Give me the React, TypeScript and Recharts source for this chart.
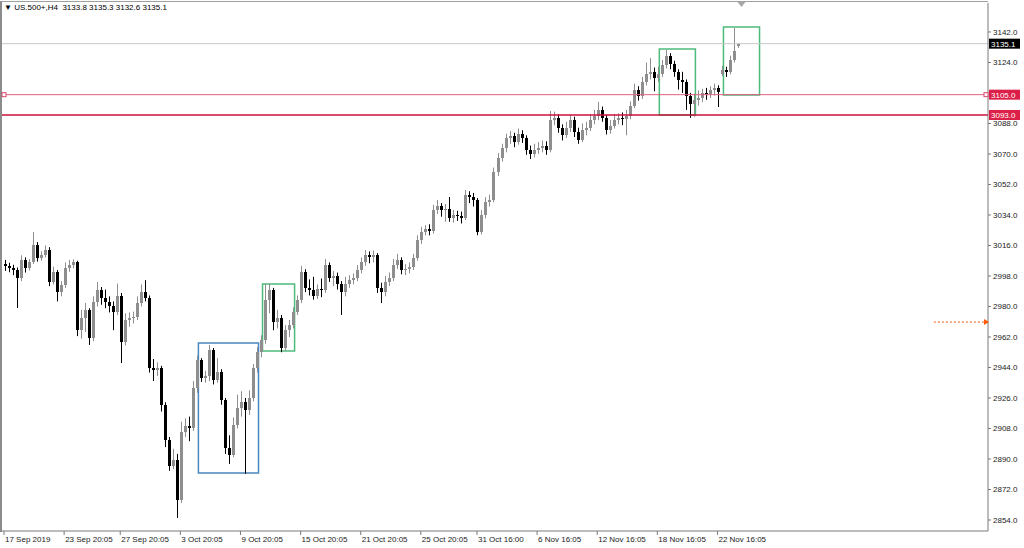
import React from "react";
import {
  ComposedChart,
  Bar,
  XAxis,
  YAxis,
  ReferenceLine,
  ReferenceArea,
  ReferenceDot,
} from "recharts";

// US.500+ H4 candles
const opens = [
  3005.0, 3003.9, 3002.7, 3001.5, 2996.8, 3007.5, 3002.7, 3006.2, 3016.3, 3008.6,
  3010.4, 3013.3, 2994.5, 3000.3, 2988.5, 2992.7, 3002.7, 3004.5, 3006.2, 2966.1,
  2973.2, 2977.9, 2961.4, 2982.6, 2989.7, 2985.0, 2982.6, 2980.3, 2976.7, 2986.2,
  2959.0, 2972.0, 2973.2, 2973.8, 2982.0, 2988.5, 2985.0, 2943.7, 2942.5, 2943.7,
  2921.9, 2901.2, 2885.9, 2889.4, 2865.8, 2905.9, 2909.5, 2908.3, 2931.9, 2948.4,
  2937.8, 2939.0, 2954.3, 2936.6, 2941.3, 2924.8, 2896.5, 2892.3, 2910.1, 2920.1,
  2923.6, 2918.9, 2926.0, 2943.7, 2953.1, 2960.2, 2983.8, 2989.7, 2970.8, 2973.2,
  2955.5, 2966.1, 2969.1, 2976.7, 2983.8, 3000.3, 2990.9, 2989.7, 2986.2, 2990.3,
  2989.7, 3004.5, 2996.8, 2997.9, 2993.3, 2988.5, 2993.3, 2995.6, 2996.8, 3001.5,
  3006.2, 3010.4, 3009.0, 3010.4, 2990.9, 2988.5, 2994.5, 2996.8, 3004.5, 3007.5,
  3001.5, 3002.0, 3003.3, 3008.6, 3019.2, 3024.0, 3025.7, 3024.6, 3036.9, 3039.3,
  3036.9, 3037.8, 3032.2, 3034.0, 3033.4, 3032.2, 3045.8, 3044.6, 3042.8, 3024.0,
  3034.0, 3041.7, 3042.8, 3059.4, 3067.6, 3073.5, 3079.4, 3080.6, 3077.1, 3081.8,
  3079.4, 3072.4, 3070.0, 3072.4, 3073.5, 3074.7, 3072.4, 3090.1, 3091.3, 3085.3,
  3081.2, 3085.3, 3090.1, 3083.0, 3078.3, 3084.2, 3085.3, 3090.1, 3092.4, 3096.0,
  3091.3, 3084.2, 3086.5, 3090.1, 3091.3, 3090.5, 3092.4, 3098.3, 3107.8, 3104.2,
  3112.5, 3117.2, 3118.4, 3114.9, 3117.2, 3122.5, 3127.8, 3123.1, 3118.4, 3113.7,
  3112.5, 3104.2, 3099.5, 3101.9, 3103.0, 3106.0, 3105.4, 3107.8, 3109.0, 3117.0,
  3119.6, 3118.4, 3125.5, 3133.8,
];

const highs = [
  3007.5, 3005.8, 3004.6, 3003.0, 3010.2, 3009.0, 3008.0, 3024.0, 3018.0, 3012.6,
  3016.0, 3015.0, 3003.5, 3001.5, 2995.0, 3006.0, 3007.5, 3007.8, 3007.0, 2978.0,
  2982.0, 2979.0, 2986.0, 2994.5, 2991.5, 2990.0, 2986.0, 2983.0, 2993.5, 2988.0,
  2976.0, 2976.5, 2977.0, 2986.0, 2993.0, 2995.5, 2986.5, 2949.0, 2947.0, 2945.0,
  2923.5, 2903.0, 2896.0, 2893.0, 2912.0, 2914.0, 2915.0, 2936.0, 2951.0, 2949.5,
  2942.0, 2957.3, 2955.5, 2949.5, 2943.0, 2926.0, 2904.0, 2914.5, 2928.0, 2930.0,
  2926.0, 2930.5, 2946.0, 2956.0, 2963.0, 2993.5, 2993.5, 2991.0, 2978.0, 2975.0,
  2969.0, 2972.0, 2979.5, 2986.5, 3004.0, 3002.0, 2996.0, 2997.5, 2993.0, 2996.5,
  3008.0, 3006.0, 3001.0, 3000.0, 2995.0, 2997.5, 2998.5, 2999.5, 3004.5, 3009.0,
  3013.3, 3012.5, 3013.0, 3011.5, 2994.0, 2998.0, 3000.0, 3008.0, 3011.0, 3009.0,
  3005.0, 3006.0, 3011.0, 3022.0, 3027.0, 3028.0, 3028.5, 3040.0, 3042.8, 3041.0,
  3040.5, 3044.6, 3037.0, 3036.5, 3036.0, 3048.7, 3048.0, 3047.0, 3044.0, 3037.0,
  3044.5, 3046.0, 3062.0, 3070.5, 3076.0, 3082.0, 3083.5, 3082.5, 3085.0, 3084.0,
  3081.0, 3075.0, 3076.0, 3077.0, 3078.0, 3077.5, 3095.4, 3095.0, 3093.5, 3087.5,
  3089.0, 3093.0, 3092.0, 3085.5, 3088.0, 3089.0, 3093.5, 3096.0, 3100.7, 3098.0,
  3093.0, 3090.0, 3093.5, 3094.0, 3094.5, 3096.0, 3101.0, 3111.5, 3110.0, 3115.5,
  3124.0, 3126.6, 3121.0, 3121.5, 3125.5, 3131.4, 3129.5, 3125.0, 3120.0, 3118.5,
  3114.0, 3106.0, 3105.5, 3107.5, 3108.5, 3109.0, 3110.0, 3111.5, 3110.5, 3122.0,
  3121.5, 3128.0, 3144.4, 3135.3,
];

const lows = [
  3001.0, 3000.2, 2998.5, 2979.1, 2995.0, 3000.0, 3001.2, 3005.0, 3006.5, 3007.0,
  3009.0, 2992.0, 2993.0, 2983.0, 2986.0, 2991.0, 3000.5, 3002.5, 2962.5, 2961.0,
  2965.0, 2957.3, 2959.5, 2980.0, 2981.0, 2979.0, 2976.5, 2966.0, 2975.0, 2946.6,
  2957.0, 2968.0, 2970.0, 2972.0, 2980.0, 2983.0, 2941.0, 2936.0, 2939.0, 2918.0,
  2897.0, 2883.0, 2884.0, 2855.2, 2864.0, 2903.0, 2900.5, 2906.5, 2929.0, 2935.5,
  2935.0, 2936.0, 2934.0, 2935.0, 2922.0, 2893.0, 2887.1, 2891.0, 2908.0, 2915.0,
  2881.2, 2916.0, 2924.0, 2941.0, 2950.0, 2958.0, 2976.0, 2966.0, 2967.0, 2953.0,
  2954.0, 2962.0, 2967.0, 2975.0, 2982.0, 2988.5, 2986.5, 2984.0, 2984.5, 2985.5,
  2988.0, 2994.5, 2992.0, 2990.0, 2975.0, 2986.0, 2991.0, 2993.0, 2995.0, 2999.5,
  3004.0, 3005.5, 3006.0, 2988.0, 2982.0, 2986.0, 2992.0, 2995.0, 3002.0, 2999.0,
  2998.5, 2999.5, 3001.5, 3007.0, 3017.0, 3022.0, 3022.0, 3023.0, 3034.5, 3033.0,
  3030.0, 3030.0, 3029.5, 3030.5, 3029.0, 3031.0, 3041.0, 3039.0, 3022.1, 3022.5,
  3032.0, 3039.0, 3041.5, 3057.0, 3065.5, 3071.0, 3076.0, 3074.0, 3075.5, 3076.5,
  3069.5, 3067.0, 3068.0, 3070.0, 3071.0, 3069.5, 3071.0, 3087.0, 3082.5, 3078.0,
  3079.5, 3083.0, 3080.0, 3076.0, 3077.0, 3081.0, 3083.5, 3087.5, 3090.0, 3089.0,
  3081.5, 3082.0, 3085.0, 3087.5, 3087.0, 3081.0, 3090.5, 3097.0, 3101.5, 3102.5,
  3110.5, 3114.0, 3107.0, 3112.5, 3115.5, 3120.5, 3120.0, 3115.5, 3108.0, 3106.0,
  3096.0, 3091.3, 3092.0, 3098.5, 3100.5, 3102.0, 3103.0, 3104.5, 3097.7, 3116.0,
  3115.5, 3117.0, 3124.0, 3132.6,
];

const closes = [
  3003.9, 3002.7, 3001.5, 2996.8, 3007.5, 3002.7, 3006.2, 3016.3, 3008.6, 3010.4,
  3013.3, 2994.5, 3000.3, 2988.5, 2992.7, 3002.7, 3004.5, 3006.2, 2966.1, 2973.2,
  2977.9, 2961.4, 2982.6, 2989.7, 2985.0, 2982.6, 2980.3, 2976.7, 2986.2, 2959.0,
  2972.0, 2973.2, 2973.8, 2982.0, 2988.5, 2985.0, 2943.7, 2942.5, 2943.7, 2921.9,
  2901.2, 2885.9, 2889.4, 2865.8, 2905.9, 2909.5, 2908.3, 2931.9, 2948.4, 2937.8,
  2939.0, 2954.3, 2936.6, 2941.3, 2924.8, 2896.5, 2892.3, 2910.1, 2920.1, 2923.6,
  2918.9, 2926.0, 2943.7, 2953.1, 2960.2, 2983.8, 2989.7, 2970.8, 2973.2, 2955.5,
  2966.1, 2969.1, 2976.7, 2983.8, 3000.3, 2990.9, 2989.7, 2986.2, 2990.3, 2989.7,
  3004.5, 2996.8, 2997.9, 2993.3, 2988.5, 2993.3, 2995.6, 2996.8, 3001.5, 3006.2,
  3010.4, 3009.0, 3010.4, 2990.9, 2988.5, 2994.5, 2996.8, 3004.5, 3007.5, 3001.5,
  3002.0, 3003.3, 3008.6, 3019.2, 3024.0, 3025.7, 3024.6, 3036.9, 3039.3, 3036.9,
  3037.8, 3032.2, 3034.0, 3033.4, 3032.2, 3045.8, 3044.6, 3042.8, 3024.0, 3034.0,
  3041.7, 3042.8, 3059.4, 3067.6, 3073.5, 3079.4, 3080.6, 3077.1, 3081.8, 3079.4,
  3072.4, 3070.0, 3072.4, 3073.5, 3074.7, 3072.4, 3090.1, 3091.3, 3085.3, 3081.2,
  3085.3, 3090.1, 3083.0, 3078.3, 3084.2, 3085.3, 3090.1, 3092.4, 3096.0, 3091.3,
  3084.2, 3086.5, 3090.1, 3091.3, 3090.5, 3092.4, 3098.3, 3107.8, 3104.2, 3112.5,
  3117.2, 3118.4, 3114.9, 3117.2, 3122.5, 3127.8, 3123.1, 3118.4, 3113.7, 3112.5,
  3104.2, 3099.5, 3101.9, 3103.0, 3106.0, 3105.4, 3107.8, 3109.0, 3106.6, 3119.6,
  3118.4, 3125.5, 3131.0, 3135.1,
];

// empty bars kept on the right (chart shift)
const SLOTS = 246;

const tickIdx = [0, 15, 29, 44, 59, 74, 89, 104, 118, 133, 148, 163, 178];
const tickLabels = [
  "17 Sep 2019", "23 Sep 20:05", "27 Sep 20:05", "3 Oct 20:05", "9 Oct 20:05",
  "15 Oct 20:05", "21 Oct 20:05", "25 Oct 20:05", "31 Oct 16:00", "6 Nov 16:05",
  "12 Nov 16:05", "18 Nov 16:05", "22 Nov 16:05",
];

const yTicks = [2854, 2872, 2890, 2908, 2926, 2944, 2962, 2980, 2998, 3016, 3034, 3052, 3070, 3088, 3124, 3142];
const Y_MIN = 2847.5;
const Y_MAX = 3159.1;

const BID = 3135.1;
const LEVEL_A = 3105.0;
const LEVEL_B = 3093.0;
const ARROW_PRICE = 2970.8;

const FONT = "'Liberation Sans', Arial, sans-serif";
const BULL = "#8e8e8e";
const BEAR = "#000000";
const GREEN = "#4dbb7c";
const BLUE = "#4a86c0";

const data = Array.from({ length: SLOTS }, (_, i) => ({
  i,
  open: i < closes.length ? opens[i] : null,
  high: i < closes.length ? highs[i] : null,
  low: i < closes.length ? lows[i] : null,
  close: i < closes.length ? closes[i] : null,
}));

const Candle = (props: any) => {
  const { x, y, width, height, payload } = props;
  if (!payload || payload.high == null) return <g />;
  const { open, close, high, low } = payload;
  const top = Math.min(y, y + height);
  const h = Math.abs(height);
  const k = high === low ? 0 : h / (high - low);
  const yO = top + (high - open) * k;
  const yC = top + (high - close) * k;
  const color = close >= open ? BULL : BEAR;
  const cx = Math.round(x + width / 2) + 0.5;
  return (
    <g>
      <line x1={cx} x2={cx} y1={top} y2={top + h} stroke={color} strokeWidth={1} />
      <rect
        x={cx - 1.5}
        y={Math.min(yO, yC)}
        width={3}
        height={Math.max(1, Math.abs(yC - yO))}
        fill={color}
        shapeRendering="crispEdges"
      />
    </g>
  );
};

const XTick = ({ x, y, payload }: any) => {
  const n = tickIdx.indexOf(payload.value);
  return (
    <text x={x + 1} y={y + 7} fontSize={8} fontFamily={FONT} fill="#222" textAnchor="start">
      {n >= 0 ? tickLabels[n] : ""}
    </text>
  );
};

const YTick = ({ x, y, payload }: any) => (
  <text x={x} y={y + 3} fontSize={8} fontFamily={FONT} fill="#222" textAnchor="start">
    {Number(payload.value).toFixed(1)}
  </text>
);

const PriceTag = ({ viewBox, text, bg }: any) => {
  if (!viewBox) return null;
  const left = viewBox.x + viewBox.width + 1;
  return (
    <g>
      <rect x={left} y={viewBox.y - 5} width={31} height={10} fill={bg} />
      <text x={left + 2} y={viewBox.y + 3} fontSize={8} fontFamily={FONT} fill="#fff">
        {text}
      </text>
    </g>
  );
};

const Square = ({ cx, cy }: any) => (
  <rect x={cx - 2} y={cy - 2} width={4} height={4} fill="#fff" stroke="#d9476a" strokeWidth={1} />
);

const ArrowHead = ({ cx, cy }: any) => (
  <path d={`M${cx - 2},${cy - 3} L${cx + 3},${cy} L${cx - 2},${cy + 3} Z`} fill="#ff5a00" />
);

const ShiftMark = ({ cx, cy }: any) => (
  <path d={`M${cx - 4},${cy - 1} L${cx + 4},${cy - 1} L${cx},${cy + 4} Z`} fill="#a8a8a8" />
);

export default function App() {
  return (
    <div style={{ position: "relative", width: 1024, height: 548, background: "#fff" }}>
      <style>{"body{margin:0}"}</style>
      {/* chart frame */}
      <div
        style={{
          position: "absolute",
          left: 0,
          top: 1,
          width: 986,
          height: 530,
          borderTop: "1px solid #a0a0a0",
          borderLeft: "2px solid #8c8c8c",
        }}
      />
      <div
        style={{
          position: "absolute",
          left: 4,
          top: 3,
          fontFamily: FONT,
          fontSize: 8,
          color: "#000",
          whiteSpace: "pre",
          zIndex: 2,
        }}
      >
        {"▼ US.500+,H4  3133.8 3135.3 3132.6 3135.1"}
      </div>
      <div style={{ position: "absolute", left: 0, top: 0, zIndex: 1 }}>
        <ComposedChart
          width={1024}
          height={548}
          data={data}
          margin={{ top: 3, right: 0, bottom: 0, left: 2 }}
        >
          <XAxis
            dataKey="i"
            type="category"
            ticks={tickIdx}
            interval={0}
            height={17}
            tickSize={4}
            tickMargin={0}
            axisLine={{ stroke: "#7a7a7a" }}
            tickLine={{ stroke: "#7a7a7a" }}
            tick={<XTick />}
          />
          <YAxis
            orientation="right"
            width={36}
            domain={[Y_MIN, Y_MAX]}
            allowDataOverflow
            ticks={yTicks}
            interval={0}
            tickSize={3}
            tickMargin={2}
            axisLine={{ stroke: "#7a7a7a" }}
            tickLine={{ stroke: "#7a7a7a" }}
            tick={<YTick />}
          />
          <ReferenceArea x1={49} x2={63} y1={2881.7} y2={2958.4} fill="none" stroke={BLUE} strokeWidth={1.5} />
          <ReferenceArea x1={65} x2={72} y1={2953.7} y2={2993.3} fill="none" stroke={GREEN} strokeWidth={1.5} />
          <ReferenceArea x1={164} x2={172} y1={3093.0} y2={3132.0} fill="none" stroke={GREEN} strokeWidth={1.5} />
          <ReferenceArea x1={180} x2={188} y1={3104.8} y2={3144.9} fill="none" stroke={GREEN} strokeWidth={1.5} />
          <ReferenceLine
            y={BID}
            stroke="#c8c8c8"
            label={<PriceTag text="3135.1" bg="#000" />}
          />
          <ReferenceLine
            y={LEVEL_A}
            stroke="#e0607f"
            label={<PriceTag text="3105.0" bg="#dc1f48" />}
          />
          <ReferenceLine
            y={LEVEL_B}
            stroke="#c8133a"
            strokeWidth={1.5}
            label={<PriceTag text="3093.0" bg="#dc1f48" />}
          />
          <ReferenceLine
            segment={[
              { x: 232, y: ARROW_PRICE },
              { x: 245, y: ARROW_PRICE },
            ]}
            stroke="#ff5a00"
            strokeDasharray="2 2"
          />
          <ReferenceDot x={245} y={ARROW_PRICE} r={3} shape={<ArrowHead />} />
          <ReferenceDot x={0} y={LEVEL_A} r={2} shape={<Square />} />
          <ReferenceDot x={245} y={LEVEL_A} r={2} shape={<Square />} />
          <ReferenceDot x={184} y={Y_MAX} r={3} shape={<ShiftMark />} />
          <Bar
            dataKey={(d: any) => (d.high == null ? null : [d.low, d.high])}
            barSize={3}
            shape={<Candle />}
            isAnimationActive={false}
          />
        </ComposedChart>
      </div>
    </div>
  );
}
